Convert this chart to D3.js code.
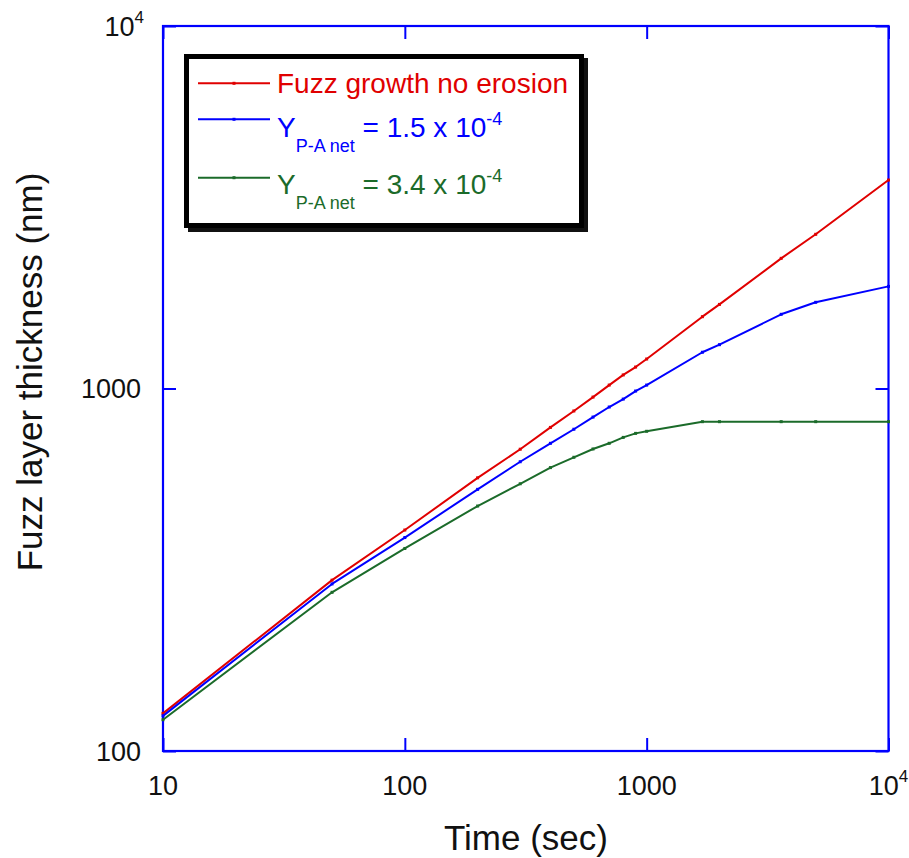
<!DOCTYPE html>
<html>
<head>
<meta charset="utf-8">
<script src="https://cdn.jsdelivr.net/npm/d3@7"></script>
<style>
  html, body { margin: 0; padding: 0; background: #fff; }
  svg { display: block; font-family: Arial, "Liberation Sans", sans-serif; }
</style>
</head>
<body>
<svg id="chart" width="909" height="858"></svg>
<script>
// ---- data ----
const times = [10, 50, 100, 200, 300, 400, 500, 600, 700, 800, 900, 1000, 1700, 2000, 3600, 5000, 10000];
const noErosion = [127, 296, 407, 567, 680, 781, 867, 947, 1022, 1090, 1146, 1206, 1578, 1706, 2286, 2663, 3759];
const yield15 = [125, 289, 388, 527, 628, 706, 772, 834, 889, 935, 984, 1022, 1259, 1321, 1602, 1729, 1913];
const yield34 = [122, 274, 362, 474, 546, 605, 646, 681, 706, 733, 752, 762, 810, 810, 810, 810, 810];

const xTicks = [10, 100, 1000, 10000];
const yTicks = [100, 1000, 10000];

const seriesNames = ["Fuzz growth no erosion", "1.5", "3.4"];
const seriesColors = ["#e00000", "#0000ff", "#1b6b2a"];
const seriesValues = [noErosion, yield15, yield34];

// ---- layout ----
const svg = d3.select("#chart");
const pLeft = 163, pRight = 888.5, pTop = 26, pBottom = 751;
const axisColor = "#0000ff";

const x = d3.scaleLog().domain([10, 10000]).range([pLeft, pRight]);
const y = d3.scaleLog().domain([100, 10000]).range([pBottom, pTop]);

// ticks (inward) on all four sides
function styleAxis(g) {
  g.select(".domain").remove();
  g.selectAll(".tick line").attr("stroke", axisColor).attr("stroke-width", 2);
  g.selectAll(".tick text").remove();
}
svg.append("g").attr("transform", `translate(0,${pBottom})`)
  .call(d3.axisBottom(x).tickValues(xTicks).tickSizeInner(-13).tickSizeOuter(0)).call(styleAxis);
svg.append("g").attr("transform", `translate(0,${pTop})`)
  .call(d3.axisTop(x).tickValues(xTicks).tickSizeInner(-13).tickSizeOuter(0)).call(styleAxis);
svg.append("g").attr("transform", `translate(${pLeft},0)`)
  .call(d3.axisLeft(y).tickValues(yTicks).tickSizeInner(-13).tickSizeOuter(0)).call(styleAxis);
svg.append("g").attr("transform", `translate(${pRight},0)`)
  .call(d3.axisRight(y).tickValues(yTicks).tickSizeInner(-13).tickSizeOuter(0)).call(styleAxis);

// frame
svg.append("rect")
  .attr("x", pLeft).attr("y", pTop)
  .attr("width", pRight - pLeft).attr("height", pBottom - pTop)
  .attr("fill", "none").attr("stroke", axisColor).attr("stroke-width", 2.2);

// tick labels
function tickLabel(sel, v) {
  const e = Math.round(Math.log10(v));
  if (e >= 4) {
    sel.append("tspan").text("10");
    sel.append("tspan").attr("font-size", 17).attr("dy", -13).text(String(e));
  } else {
    sel.text(String(v));
  }
}
xTicks.forEach(v => {
  const t = svg.append("text")
    .attr("x", x(v)).attr("y", 795)
    .attr("text-anchor", "middle")
    .attr("font-size", 27).attr("fill", "#111");
  tickLabel(t, v);
});
yTicks.forEach(v => {
  const t = svg.append("text")
    .attr("x", v >= 10000 ? 144 : 141).attr("y", y(v) + 9.5)
    .attr("text-anchor", "end")
    .attr("font-size", 27).attr("fill", "#111");
  tickLabel(t, v);
});

// axis titles
svg.append("text")
  .attr("x", 526).attr("y", 850)
  .attr("text-anchor", "middle")
  .attr("font-size", 35).attr("fill", "#111")
  .text("Time (sec)");
svg.append("text")
  .attr("transform", `translate(42,${372}) rotate(-90)`)
  .attr("text-anchor", "middle")
  .attr("font-size", 35).attr("fill", "#111")
  .text("Fuzz layer thickness (nm)");

// lines
const line = d3.line().x((d, i) => x(times[i])).y(d => y(d));
seriesValues.forEach((vals, k) => {
  svg.append("path")
    .datum(vals)
    .attr("d", line)
    .attr("fill", "none")
    .attr("stroke", seriesColors[k])
    .attr("stroke-width", 2)
    .attr("stroke-linejoin", "round");
  svg.append("g").selectAll("rect")
    .data(vals)
    .join("rect")
    .attr("x", (d, i) => x(times[i]) - 1.5)
    .attr("y", d => y(d) - 1.5)
    .attr("width", 3).attr("height", 3)
    .attr("fill", seriesColors[k]);
});

// legend
const lg = svg.append("g");
lg.append("rect")
  .attr("x", 190.5).attr("y", 60.5).attr("width", 395).attr("height", 169)
  .attr("fill", "#111").attr("stroke", "#111").attr("stroke-width", 5);
lg.append("rect")
  .attr("x", 186.5).attr("y", 56.5).attr("width", 395).attr("height", 169)
  .attr("fill", "#fff").attr("stroke", "#000").attr("stroke-width", 5);

const legendY = [83.3, 119.3, 177.7];
const textBase = [92.7, 136.7, 194.3];
seriesColors.forEach((c, k) => {
  lg.append("line")
    .attr("x1", 198).attr("x2", 270)
    .attr("y1", legendY[k]).attr("y2", legendY[k])
    .attr("stroke", c).attr("stroke-width", 2);
  lg.append("rect")
    .attr("x", 232.5).attr("y", legendY[k] - 1.5)
    .attr("width", 3).attr("height", 3).attr("fill", c);
  const t = lg.append("text")
    .attr("x", 277).attr("y", textBase[k])
    .attr("font-size", 28).attr("fill", c);
  if (k === 0) {
    t.text(seriesNames[0]);
  } else {
    t.append("tspan").text("Y");
    t.append("tspan").attr("font-size", 18).attr("dy", 15).text("P-A net");
    t.append("tspan").attr("dy", -15).text("\u00a0= " + seriesNames[k] + " x 10");
    t.append("tspan").attr("font-size", 18).attr("dy", -12).text("-4");
  }
});
</script>
</body>
</html>
